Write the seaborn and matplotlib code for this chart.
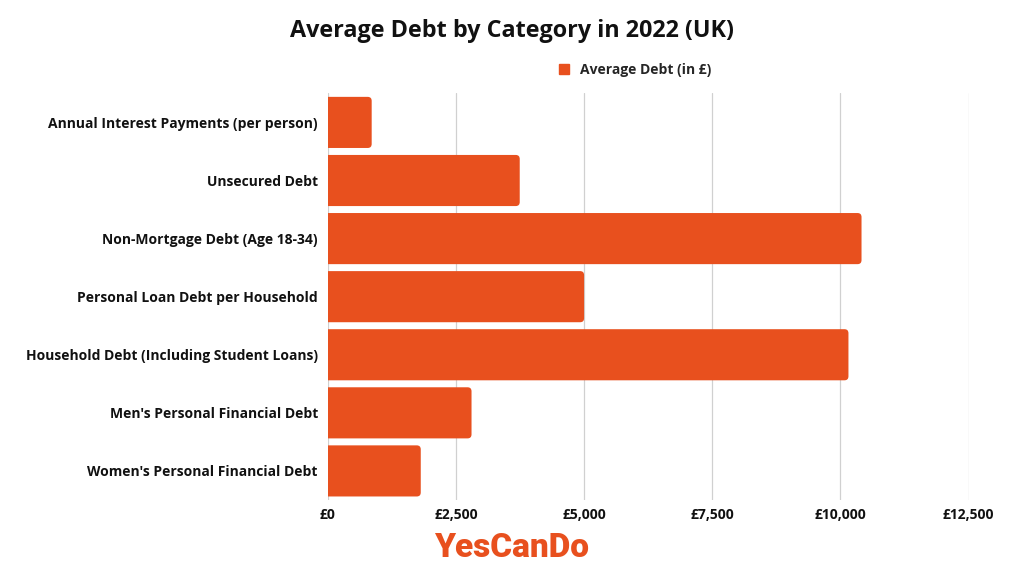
import pandas as pd
import seaborn as sns
import matplotlib.pyplot as plt
from matplotlib.patches import FancyBboxPatch
from matplotlib.ticker import FuncFormatter

categories = [
    "Annual Interest Payments (per person)",
    "Unsecured Debt",
    "Non-Mortgage Debt (Age 18-34)",
    "Personal Loan Debt per Household",
    "Household Debt (Including Student Loans)",
    "Men's Personal Financial Debt",
    "Women's Personal Financial Debt",
]
avg_debt = [858, 3745, 10410, 5000, 10155, 2805, 1815]
xticks = [0, 2500, 5000, 7500, 10000, 12500]

bar_color = "#E8501E"

sns.set_theme(style="white")
plt.rcParams["font.family"] = ["Open Sans", "DejaVu Sans"]

df = pd.DataFrame({"Category": categories, "Average Debt (in £)": avg_debt})

fig = plt.figure(figsize=(10.24, 5.8), dpi=100)
ax = fig.add_axes([0.320, 0.138, 0.626, 0.701])

sns.barplot(data=df, x="Average Debt (in £)", y="Category", color=bar_color,
            width=0.88, ax=ax, zorder=3)

ax.set_xlim(0, 12500)
ax.set_ylim(6.5, -0.5)

# swap plain rectangles for boxes with rounded corners
px_x = 12500 / (0.626 * 1024)
px_y = 7 / (0.701 * 580)
r = 4 * px_x
for p in list(ax.patches):
    x0, y0 = p.get_x(), p.get_y()
    w, h = p.get_width(), p.get_height()
    rb = FancyBboxPatch((x0 - r, y0), w + r, h,
                        boxstyle=f"round,pad=0,rounding_size={r}",
                        mutation_aspect=px_y / px_x,
                        facecolor=bar_color, edgecolor="none", zorder=3)
    p.remove()
    ax.add_patch(rb)

ax.set_xticks(xticks)
ax.xaxis.set_major_formatter(FuncFormatter(lambda v, _: f"£{v:,.0f}"))
ax.grid(axis="x", color="#d0d0d0", linewidth=0.9, zorder=0)
for s in ax.spines.values():
    s.set_visible(False)
ax.tick_params(axis="both", length=0, labelsize=10)
ax.tick_params(axis="x", pad=6)
ax.tick_params(axis="y", pad=7)
for lab in ax.get_xticklabels() + ax.get_yticklabels():
    lab.set_fontweight("bold")
    lab.set_color("#111111")
ax.set_xlabel("")
ax.set_ylabel("")

fig.text(0.5, 0.947, "Average Debt by Category in 2022 (UK)", ha="center",
         va="center", fontsize=16.8, fontweight="bold", color="#111111")

handle = plt.Line2D([], [], marker="s", linestyle="none", markersize=7,
                    color=bar_color)
fig.legend([handle], ["Average Debt (in £)"], loc="center",
           bbox_to_anchor=(0.616, 0.879), frameon=False, handletextpad=0.1,
           prop={"weight": "bold", "size": 10})

fig.text(0.5, 0.055, "YesCanDo", ha="center", va="center", fontsize=24,
         fontweight="heavy", color=bar_color, family=["Roboto", "DejaVu Sans"])

fig.savefig("out.png", dpi=100, facecolor="white")
